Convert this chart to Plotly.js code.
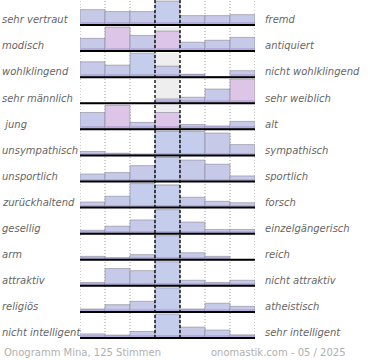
<!DOCTYPE html>
<html><head><meta charset="utf-8">
<script src="https://cdn.plot.ly/plotly-3.0.1.min.js"></script>
<style>html,body{margin:0;padding:0;background:#fff}#c{width:370px;height:360px}</style>
</head><body><div id="c"></div>
<script>
// ---- data ----
const leftLabels = ["sehr vertraut","modisch","wohlklingend","sehr männlich"," jung","unsympathisch","unsportlich","zurückhaltend","gesellig","arm","attraktiv","religiös","nicht intelligent"];
const rightLabels = ["fremd","antiquiert","nicht wohlklingend","sehr weiblich","alt","sympathisch","sportlich","forsch","einzelgängerisch","reich","nicht attraktiv","atheistisch","sehr intelligent"];
const scale = [1,2,3,4,5,6,7];
const rowValues = [
  [64,56,56,100,39,39,43],
  [53,100,65,83,37,45,57],
  [64,50,100,46,12,3,27],
  [0,0,0,18,25,59,100],
  [70,100,29,70,20,14,33],
  [16,9,6,100,100,93,45],
  [31,37,66,100,89,72,23],
  [23,47,100,94,43,26,20],
  [14,31,57,100,48,17,17],
  [14,9,21,100,29,14,0],
  [14,72,63,100,23,14,23],
  [12,30,44,100,12,36,23],
  [17,12,27,100,45,33,13]
];
const footerLeft = "Onogramm Mina, 125 Stimmen";
const footerRight = "onomastik.com - 05 / 2025";

// ---- style ----
const tints = [
  "lllblll","lplplll","llbllll","llllllp","lplplll",
  "lllbbll","lllblll","llbblll","lllblll","lllblll","lllblll","lllblll","lllblll"
];
const palette = {l:"#c7c9e9", b:"#c4cdeb", p:"#dcc5e6"};
const FULL = 0.92;
const nRows = rowValues.length;

const xs=[], bases=[], hs=[], cols=[], shadeH=[];
const bgx=[], bgb=[], bgh=[];
rowValues.forEach((vals,r)=>{
  const base = nRows-1-r;
  bgx.push(3); bgb.push(base); bgh.push(FULL);
  vals.forEach((v,i)=>{
    xs.push(i); bases.push(base); hs.push(v/100*FULL);
    cols.push(palette[tints[r][i]]);
    shadeH.push(Math.min(v/100*FULL, 0.11));
  });
});

const traces = [
  {type:"bar", x:bgx, y:bgh, base:bgb, width:1, marker:{color:"#eeeeee", line:{width:0}}, hoverinfo:"skip"},
  {type:"bar", x:xs, y:hs, base:bases, width:1, marker:{color:cols, line:{color:"rgba(135,135,150,0.6)", width:1}}, hoverinfo:"skip"},
  {type:"bar", x:xs, y:shadeH, base:bases, width:0.96, marker:{color:"rgba(140,120,190,0.35)", line:{width:0}}, hoverinfo:"skip"}
];

const shapes = [];
[-0.5,0.5,1.5,4.5,5.5,6.5].forEach(x=>shapes.push({type:"line", xref:"x", yref:"y", x0:x, x1:x, y0:0, y1:nRows-1+0.96, layer:"below", line:{color:"#999", width:1, dash:"1px,2px"}}));
[2.5,3.5].forEach(x=>shapes.push({type:"line", xref:"x", yref:"y", x0:x, x1:x, y0:0, y1:nRows-1+0.96, layer:"above", line:{color:"#000", width:1.3, dash:"3px,2px"}}));
for(let r=0;r<nRows;r++){
  const b = nRows-1-r;
  shapes.push({type:"line", xref:"x", yref:"y", x0:-0.5, x1:6.6, y0:b, y1:b, layer:"above", line:{color:"#000", width:2}});
}

const annotations = [];
const lf = {family:"DejaVu Sans, Verdana, sans-serif", size:10, color:"#666"};
for(let r=0;r<nRows;r++){
  const b = nRows-1-r;
  annotations.push({xref:"paper", yref:"y", x:-80/175, y:b+0.2, xanchor:"left", yanchor:"middle", text:"<i>"+leftLabels[r]+"</i>", showarrow:false, font:lf});
  annotations.push({xref:"paper", yref:"y", x:(263-80)/175, y:b+0.2, xanchor:"left", yanchor:"middle", text:"<i>"+rightLabels[r]+"</i>", showarrow:false, font:lf});
}
const ff = {family:"DejaVu Sans, Verdana, sans-serif", size:10, color:"#b0b0b0"};
annotations.push({xref:"paper", yref:"paper", x:-78/175, y:-12/340, xanchor:"left", yanchor:"middle", text:footerLeft, showarrow:false, font:ff});
annotations.push({xref:"paper", yref:"paper", x:(348-80)/175, y:-12/340, xanchor:"right", yanchor:"middle", text:footerRight, showarrow:false, font:ff});

const ymax = nRows-1 + 25/26.08;
const ymin = ymax - 340/26.08;
const layout = {
  width:370, height:360, margin:{l:80, r:115, t:0, b:20},
  paper_bgcolor:"#fff", plot_bgcolor:"#fff", showlegend:false, barmode:"overlay", bargap:0,
  xaxis:{range:[-0.5,6.5], showgrid:false, zeroline:false, showticklabels:false, ticks:"", fixedrange:true},
  yaxis:{range:[ymin,ymax], showgrid:false, zeroline:false, showticklabels:false, ticks:"", fixedrange:true},
  shapes, annotations
};
Plotly.newPlot("c", traces, layout, {displayModeBar:false, staticPlot:true});
</script></body></html>
